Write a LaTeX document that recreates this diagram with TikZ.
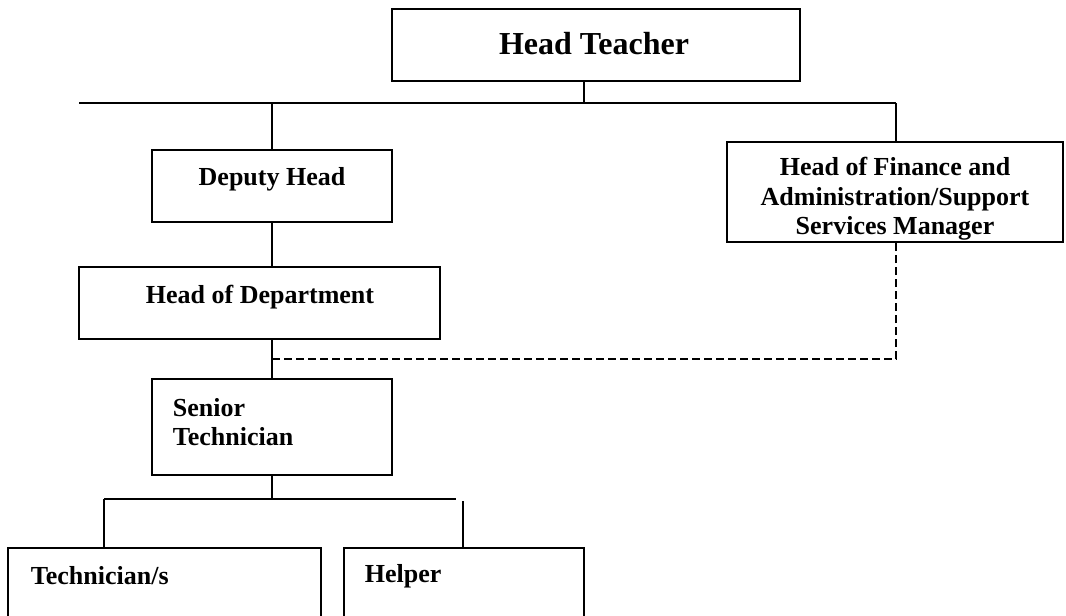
\documentclass[tikz,border=0pt]{standalone}
\usepackage{fontspec}
\setmainfont{Liberation Serif}
\begin{document}
\begin{tikzpicture}[x=0.75pt,y=-0.75pt,line width=1.3pt,
    box/.style={draw,rectangle,inner sep=0pt},
    lbl/.style={inner sep=0pt,font=\bfseries\fontsize{19.5}{22}\selectfont}]
    \def\s{0.75pt}
    \useasboundingbox (0,0) rectangle (1066,615);
    \clip (0,0) rectangle (1066,615);
    \fill[white] (0,0) rectangle (1066,615);
    \node[box,minimum width=408*\s,minimum height=72*\s] (A0_1) at (596,45) {};
    \node[box,minimum width=240*\s,minimum height=72*\s] (A1_0) at (272,186) {};
    \node[box,minimum width=336*\s,minimum height=100*\s] (A1_2) at (895,192) {};
    \node[box,minimum width=361*\s,minimum height=72*\s] (A2_0) at (259.5,303) {};
    \node[box,minimum width=240*\s,minimum height=96*\s] (A3_0) at (272,427) {};
    \node[box,minimum width=313*\s,minimum height=132*\s] (A4_0) at (164.5,614) {};
    \node[box,minimum width=240*\s,minimum height=132*\s] (A4_1) at (464,614) {};
    \node[lbl,font=\bfseries\fontsize{24}{28}\selectfont] (T0_1) at (594,44) {Head Teacher};
    \node[lbl] (T1_0) at (272,179) {Deputy Head};
    \node[lbl,align=center] (T1_2) at (895,199) {Head of Finance and\\Administration/Support\\Services Manager};
    \node[lbl] (T2_0) at (260,297) {Head of Department};
    \node[lbl,align=left,anchor=west] (T3_0) at (172,422) {Senior\\Technician};
    \node[lbl,anchor=west] (T4_0) at (30,576) {Technician/s};
    \node[lbl,anchor=west] (T4_1) at (364,576) {Helper};
    \coordinate (J0) at (584,103);
    \coordinate (B0) at (79,103);
    \coordinate (B1) at (896,103);
    \coordinate (D0) at (272,359);
    \coordinate (J1) at (272,499);
    \coordinate (B2) at (104,499);
    \coordinate (B3) at (456,499);
    \coordinate (B4) at (463,501);
    \path (B0) edge (B1);
    \path (A0_1.south -| J0) edge (J0);
    \path (A1_0.north) edge (A1_0.north |- J0);
    \path (A1_2.north -| B1) edge (B1);
    \path (A1_0.south) edge (A1_0.south |- A2_0.north);
    \path (A2_0.south -| A3_0.north) edge (A3_0.north);
    \draw[dash pattern=on 6pt off 3pt] (D0) -| (A1_2.south -| B1);
    \path (A3_0.south) edge (J1);
    \path (B2) edge (B3);
    \path (B2) edge (B2 |- A4_0.north);
    \path (B4) edge (B4 |- A4_1.north);
\end{tikzpicture}
\end{document}
